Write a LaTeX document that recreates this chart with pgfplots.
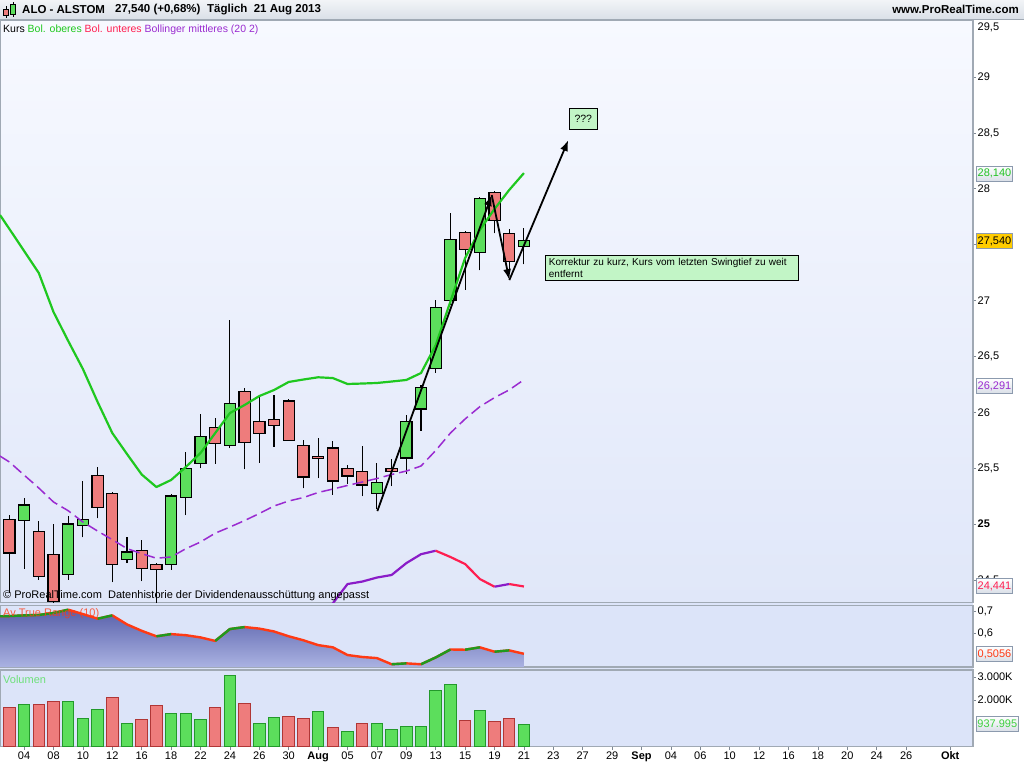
\documentclass[border=0pt]{standalone}
\usepackage{pgfplots}
\pgfplotsset{compat=1.18}
\usepackage{pgfplotstable}
\usepackage{fontspec}
\setmainfont{Liberation Sans}
\usetikzlibrary{arrows.meta}

\definecolor{upg}{HTML}{1FC81F}
\definecolor{midp}{HTML}{9A2BD0}
\definecolor{lowr}{HTML}{FF1E50}
\definecolor{lowp}{HTML}{8A1CC8}
\definecolor{cgreen}{HTML}{5CDE5C}
\definecolor{cred}{HTML}{EE7C7C}
\definecolor{vgreenb}{HTML}{23992B}
\definecolor{vredb}{HTML}{B03636}
\definecolor{atrg}{HTML}{1E9A1E}
\definecolor{atrr}{HTML}{FF3A14}
\definecolor{frame}{HTML}{A0A9B4}
\definecolor{tickc}{HTML}{7F8894}
\definecolor{panelbg}{HTML}{DCE4F9}
\definecolor{boxfill}{HTML}{C2F5C6}
\definecolor{bgtop}{HTML}{F7F9FF}
\definecolor{bgbot}{HTML}{E0E7F9}
\definecolor{atrtop}{HTML}{5860AA}
\definecolor{atrbot}{HTML}{AAB2E2}
\definecolor{hdrtop}{HTML}{F2F4F7}
\definecolor{hdrbot}{HTML}{D9DFE7}
\definecolor{boxborder}{HTML}{8C9AAE}
\definecolor{valgreen}{HTML}{22C322}
\definecolor{volgreen}{HTML}{3ED03E}
\definecolor{gold}{HTML}{FFCC00}
\definecolor{voltext}{HTML}{6EE07A}

% candles: index, open, high, low, close
\pgfplotstableread{
i o h l c
1 25.03 25.23 24.60 25.17
4 24.55 25.07 24.50 25.00
5 24.985 25.385 24.88 25.04
8 24.684 24.886 24.65 24.75
11 24.64 25.27 24.59 25.25
12 25.24 25.64 25.08 25.50
13 25.54 25.98 25.50 25.78
15 25.70 26.825 25.68 26.08
25 25.275 25.55 25.13 25.373
27 25.59 25.975 25.45 25.92
28 26.03 26.244 25.835 26.223
29 26.393 27.004 26.354 26.94
30 27.00 27.786 26.96 27.548
32 27.43 27.93 27.27 27.915
35 27.485 27.646 27.324 27.54
}\greenc
\pgfplotstableread{
i o h l c
0 25.04 25.08 24.38 24.74
2 24.93 25.03 24.50 24.53
3 24.73 25.00 24.27 24.31
6 25.436 25.507 25.05 25.15
7 25.275 25.29 24.48 24.64
9 24.76 24.86 24.49 24.60
10 24.64 24.65 24.25 24.59
14 25.865 25.95 25.54 25.72
16 26.184 26.22 25.49 25.73
17 25.915 26.15 25.55 25.81
18 25.935 26.15 25.69 25.88
19 26.10 26.12 25.745 25.75
20 25.70 25.75 25.32 25.42
21 25.606 25.77 25.41 25.588
22 25.68 25.74 25.26 25.385
23 25.50 25.53 25.36 25.43
24 25.47 25.70 25.25 25.35
26 25.50 25.584 25.34 25.47
31 27.61 27.62 27.094 27.458
33 27.965 27.98 27.60 27.718
34 27.60 27.64 27.28 27.35
}\redc
\pgfplotstableread{
i u m
-0.64 27.765 25.608
0 27.64 25.555
1 27.443 25.438
2 27.246 25.322
3 26.897 25.197
4 26.638 25.119
5 26.387 25.018
6 26.092 24.937
7 25.814 24.86
8 25.626 24.78
9 25.443 24.735
10 25.331 24.694
11 25.394 24.705
12 25.51 24.779
13 25.635 24.839
14 25.814 24.918
15 25.993 24.973
16 26.065 25.031
17 26.145 25.094
18 26.199 25.161
19 26.271 25.206
20 26.293 25.237
21 26.313 25.282
22 26.306 25.313
23 26.253 25.345
24 26.257 25.376
25 26.262 25.407
26 26.275 25.443
27 26.289 25.474
28 26.351 25.519
29 26.60 25.658
30 26.991 25.814
31 27.38 25.94
32 27.631 26.05
33 27.819 26.131
34 27.989 26.20
35 28.14 26.291
}\bands
\pgfplotstableread{
i a
-0.64 0.676
0 0.677
1 0.680
2 0.682
3 0.691
4 0.706
5 0.686
6 0.665
7 0.680
8 0.639
9 0.610
10 0.585
11 0.595
12 0.590
13 0.580
14 0.564
15 0.618
16 0.627
17 0.620
18 0.607
19 0.585
20 0.567
21 0.545
22 0.535
23 0.500
24 0.491
25 0.486
26 0.458
27 0.462
28 0.458
29 0.489
30 0.525
31 0.524
32 0.535
33 0.515
34 0.521
35 0.5056
}\atr

\pgfplotsset{
  basex/.style={scale only axis, width=973pt, xmin=-0.64, xmax=65.55},
  panel/.style={basex, axis line style={draw=frame, line width=1.3pt},
     xtick=\empty, ytick pos=right, yticklabel pos=right, tick align=outside,
     major tick length=3pt, tick style={draw=tickc, line width=0.7pt},
     yticklabel style={font=\fontsize{11}{13}\selectfont, inner sep=1.5pt},
     xticklabel style={font=\fontsize{11}{13}\selectfont, inner sep=2pt},
     /pgf/number format/assume math mode=true},
  over/.style={basex, hide axis},
  mainy/.style={at={(0pt,165.3pt)}, anchor=south west, height=582.7pt, ymin=24.296, ymax=29.51},
  wick/.style={only marks, mark options={draw=none, fill=none}, mark size=0pt, forget plot,
     error bars/.cd, y dir=plus, y explicit, error mark=none,
     error bar style={draw=black, line width=1.1pt, solid}},
}
\tikzset{
  valbox/.style={draw=boxborder, line width=0.9pt, top color=white, bottom color=hdrbot,
     anchor=west, minimum width=36pt, minimum height=15pt, inner sep=1pt,
     font=\fontsize{11}{13}\selectfont},
}

\begin{document}
\begin{tikzpicture}[x=1pt,y=1pt]
\fill[white] (0,0) rectangle (1024,768);
\fill[panelbg] (0,21.5) rectangle (973,748);

% header
\fill[top color=hdrtop, bottom color=hdrbot] (0,748) rectangle (1024,768);
\draw[frame, line width=1pt] (0,748.5) -- (1024,748.5);

% main panel: background and wicks
\begin{axis}[panel, mainy,
  ytick={24.5,25,25.5,26,26.5,27,27.5,28,28.5,29},
  yticklabels={{24,5},\textbf{25},{25,5},26,{26,5},27,{27,5},28,{28,5},29},
  axis background/.style={top color=bgtop, bottom color=bgbot}]
\addplot[wick] table[x=i, y=l, y error plus expr=\thisrow{h}-\thisrow{l}] {\greenc};
\addplot[wick] table[x=i, y=l, y error plus expr=\thisrow{h}-\thisrow{l}] {\redc};
\end{axis}

% green bodies
\begin{axis}[over, mainy, ybar stacked, bar width=0.76]
\addplot[draw=none, fill=none] table[x=i, y expr={min(\thisrow{o},\thisrow{c})}] {\greenc};
\addplot[draw=black, line width=1.2pt, fill=cgreen] table[x=i, y expr={abs(\thisrow{c}-\thisrow{o})}] {\greenc};
\end{axis}
% red bodies
\begin{axis}[over, mainy, ybar stacked, bar width=0.76]
\addplot[draw=none, fill=none] table[x=i, y expr={min(\thisrow{o},\thisrow{c})}] {\redc};
\addplot[draw=black, line width=1.2pt, fill=cred] table[x=i, y expr={abs(\thisrow{c}-\thisrow{o})}] {\redc};
\end{axis}

% bands, arrows, notes
\begin{axis}[over, mainy]
\addplot[upg, line width=2.2pt, line join=round] table[x=i, y=u] {\bands};
\addplot[midp, line width=1.5pt, dash pattern=on 11pt off 5pt] table[x=i, y=m] {\bands};
\addplot[lowp, line width=2.2pt, line join=round] coordinates {
 (21,24.12) (22,24.29) (23,24.463) (24,24.485) (25,24.521) (26,24.544) (27,24.65) (28,24.73) (29,24.761)};
\addplot[lowr, line width=2.2pt, line join=round] coordinates {
 (29,24.761) (30,24.705) (31,24.642) (32,24.508) (33,24.439)};
\addplot[lowp, line width=2.2pt] coordinates {(33,24.439) (34,24.463)};
\addplot[lowr, line width=2.2pt] coordinates {(34,24.463) (35,24.441)};
\addplot[black, line width=1.8pt, -{Latex[length=11pt,width=8pt]}] coordinates {(25.03,25.116) (32.81,27.944)};
\addplot[black, line width=1.8pt, -{Latex[length=11pt,width=8pt]}] coordinates {(32.81,27.944) (34.01,27.183)};
\addplot[black, line width=1.8pt, -{Latex[length=11pt,width=8pt]}] coordinates {(34.01,27.183) (38.02,28.436)};
\node[draw=black, line width=1pt, fill=boxfill, minimum width=28pt, minimum height=21pt,
  inner sep=0pt, font=\fontsize{10.5}{12}\selectfont] at (axis cs:39.04,28.626) {???};
\node[draw=black, line width=1pt, fill=boxfill, anchor=north west, text width=247pt,
  align=left, inner sep=3pt, font=\fontsize{10}{11.5}\selectfont]
  at (axis cs:36.46,27.407) {Korrektur zu kurz, Kurs vom letzten Swingtief zu weit\\entfernt};
\end{axis}

% ATR panel
\begin{axis}[panel, at={(0pt,101pt)}, anchor=south west, height=61.7pt,
  ymin=0.4455, ymax=0.7259, ytick={0.6,0.7}, yticklabels={{0,6},{0,7}},
  axis background/.style={fill=panelbg}]
\addplot[draw=none, top color=atrtop, bottom color=atrbot] table[x=i, y=a] {\atr}
  -- (axis cs:35,0.4455) -- (axis cs:-0.64,0.4455) -- cycle;
\addplot[atrr, line width=2.4pt, line join=round] table[x=i, y=a] {\atr};
\addplot[atrg, line width=2.4pt, line join=round] coordinates {(-0.64,0.676) (0,0.677) (1,0.680) (2,0.682) (3,0.691) (4,0.706)};
\addplot[atrg, line width=2.4pt] coordinates {(6,0.665) (7,0.680)};
\addplot[atrg, line width=2.4pt] coordinates {(10,0.585) (11,0.595)};
\addplot[atrg, line width=2.4pt, line join=round] coordinates {(14,0.564) (15,0.618) (16,0.627)};
\addplot[atrg, line width=2.4pt] coordinates {(26,0.458) (27,0.462)};
\addplot[atrg, line width=2.4pt, line join=round] coordinates {(28,0.458) (29,0.489) (30,0.525)};
\addplot[atrg, line width=2.4pt] coordinates {(31,0.524) (32,0.535)};
\addplot[atrg, line width=2.4pt] coordinates {(33,0.515) (34,0.521)};
\end{axis}

% Volume panel
\begin{axis}[panel, at={(0pt,21.5pt)}, anchor=south west, height=76.5pt,
  ymin=0, ymax=3302, ytick={2000,3000}, yticklabels={2.000K,3.000K},
  xtick={1,3,...,61,64}, xtick pos=left,
  xticklabels={04,08,10,12,16,18,22,24,26,30,\textbf{Aug},05,07,09,13,15,19,21,23,27,29,\textbf{Sep},04,06,10,12,16,18,20,24,26,\textbf{Okt}},
  axis background/.style={fill=panelbg}]
\addplot[ybar, bar width=0.78, bar shift=0pt, fill=cgreen, draw=vgreenb, line width=1pt] coordinates {
 (1,1834) (4,1964) (5,1230) (6,1618) (8,1014) (11,1446) (12,1403) (13,1187) (15,3086) (17,1014)
 (18,1260) (21,1519) (23,669) (25,1014) (26,742) (27,872) (28,872) (29,2426) (30,2685) (32,1562) (35,938)};
\addplot[ybar, bar width=0.78, bar shift=0pt, fill=cred, draw=vredb, line width=1pt] coordinates {
 (0,1662) (2,1834) (3,1921) (7,2136) (9,1144) (10,1791) (14,1705) (16,1877) (19,1303) (20,1217)
 (22,829) (24,1014) (31,1131) (33,1088) (34,1217)};
\end{axis}

% header contents
\draw[black, line width=0.8pt] (6,750) -- (6,762);
\fill[cred, draw=black, line width=0.6pt] (3.5,752.5) rectangle (8.5,759);
\draw[black, line width=0.8pt] (13,751) -- (13,766);
\fill[cgreen, draw=black, line width=0.6pt] (10.5,754) rectangle (15.5,763.5);
\begin{scope}[font=\bfseries\fontsize{11.5}{13}\selectfont]
\node[anchor=west, inner sep=0] at (22,758.5) {ALO - ALSTOM};
\node[anchor=west, inner sep=0] at (115,758.5) {27,540 (+0,68\%)};
\node[anchor=west, inner sep=0] at (207,758.5) {Täglich\ \ 21 Aug 2013};
\node[anchor=east, inner sep=0] at (1019,758.5) {www.ProRealTime.com};
\end{scope}

% texts
\node[anchor=west, inner sep=0, font=\fontsize{10.5}{12}\selectfont] at (3,738.5)
  {Kurs \textcolor{upg}{Bol. oberes} \textcolor{lowr}{Bol. unteres} \textcolor{midp}{Bollinger mittleres (20 2)}};
\node[anchor=west, inner sep=0, font=\fontsize{11}{13}\selectfont] at (3,172)
  {© ProRealTime.com\ \ Datenhistorie der Dividendenausschüttung angepasst};
\node[anchor=west, inner sep=0, font=\fontsize{11}{13}\selectfont, text=atrr, text opacity=0.8] at (3,154)
  {Av True Range (10)};
\node[anchor=west, inner sep=0, font=\fontsize{11}{13}\selectfont, text=voltext] at (3,88) {Volumen};
\node[anchor=west, inner sep=1.5pt, font=\fontsize{11}{13}\selectfont] at (976,741) {29,5};

% value boxes
\node[valbox, text=valgreen] at (976,594.5) {28,140};
\node[valbox, top color=gold, bottom color=gold] at (976,527) {27,540};
\node[valbox, text=midp] at (976,382) {26,291};
\node[valbox, text=lowr] at (976,182) {24,441};
\node[valbox, text=atrr] at (976,114) {0,5056};
\node[valbox, text=volgreen] at (976,44) {937.995};

\pgfresetboundingbox
\useasboundingbox (0,0) rectangle (1024,768);
\end{tikzpicture}
\end{document}
